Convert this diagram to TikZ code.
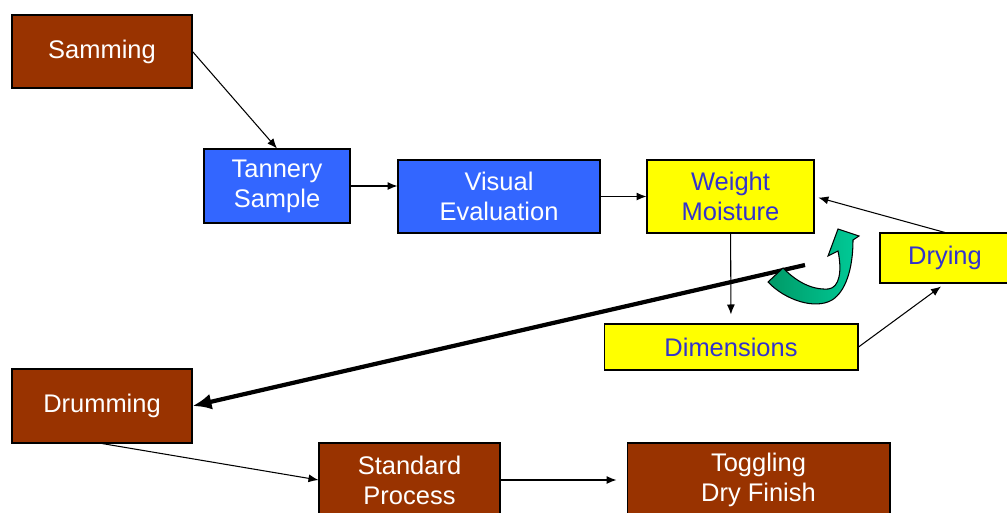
\documentclass[tikz,border=0pt]{standalone}
\usepackage{fontspec}
\setmainfont{Liberation Sans}
\usepackage{xcolor}
\usetikzlibrary{arrows,arrows.meta,calc,positioning,shapes}
\definecolor{leather}{HTML}{993300}
\definecolor{tanblue}{HTML}{3366FF}
\definecolor{dryyellow}{HTML}{FFFF00}
\definecolor{labelblue}{HTML}{3333CC}
\definecolor{greenlo}{HTML}{009966}
\definecolor{greenhi}{HTML}{00CC99}
\tikzset{%
	box/.style       = {draw, rectangle, line width=0.6pt, inner sep=0pt, align=center, font=\fontsize{14.5}{17}\selectfont},
	brownbox/.style  = {box, fill=leather, text=white}, % wet stages
	bluebox/.style   = {box, fill=tanblue, text=white}, % sample
	yellowbox/.style = {box, fill=dryyellow, text=labelblue}, % measuring
	arrow/.style     = {-{Latex[length=2mm,width=1.6mm]}, line width=0.6pt},
	bigarrow/.style  = {-{Latex[length=3.8mm,width=3.2mm]}, line width=2.4pt},
}
\begin{document}
\begin{tikzpicture}[x=0.02cm,y=-0.02cm]
	\useasboundingbox (0,0) rectangle (1007,512);
	\node [brownbox, minimum width=3.6cm, minimum height=1.46cm] (samming) at (102,51.5) {Samming};
	\node [bluebox, minimum width=2.92cm, minimum height=1.48cm] (tannery) at (277,186) {Tannery\\Sample};
	\node [bluebox, minimum width=4.04cm, minimum height=1.46cm] (visual) at (499,196.5) {Visual\\Evaluation};
	\node [yellowbox, minimum width=3.34cm, minimum height=1.46cm] (weight) at (730.5,196.5) {Weight\\Moisture};
	\node [yellowbox, minimum width=2.6cm, minimum height=1cm] (drying) at (945,258) {Drying};
	\node [yellowbox, minimum width=5.08cm, minimum height=0.92cm] (dimensions) at (731,347) {Dimensions};
	\node [brownbox, minimum width=3.6cm, minimum height=1.48cm] (drumming) at (102,406) {Drumming};
	\node [brownbox, minimum width=3.62cm, minimum height=1.48cm] (standard) at (409.5,480) {Standard\\Process};
	\node [brownbox, minimum width=5.26cm, minimum height=1.48cm] (toggling) at (758.5,480) {Toggling\\Dry Finish};
	\coordinate (back) at (805,265);

	\draw[arrow] (samming.east) -- (tannery.north);
	\draw[arrow] (tannery) -- (tannery -| visual.west);
	\draw[arrow] (visual.east) -- (weight.west);
	\draw[arrow, shorten >=0.18cm] (weight) -- (dimensions);
	\draw[arrow, shorten >=0.1cm] (dimensions.east) -- (drying.south);
	\draw[arrow, shorten >=0.08cm] (drying.north) -- (weight.east);
	\draw[bigarrow] (back) -- (drumming.east);
	\draw[arrow] (drumming.south) -- (standard.west);
	\draw[arrow, shorten >=0.2cm] (standard.east) -- (toggling.west);

	% curved block arrow
	\draw[line width=0.6pt, left color=greenlo, right color=greenhi]
		(768,282) .. controls (785,300) and (815,310) .. (832,300)
		.. controls (845,292) and (853,270) .. (853,240)
		-- (859,236) -- (838,229) -- (828,256) -- (838,251)
		.. controls (842,270) and (840,288) .. (828,289)
		.. controls (810,290) and (795,280) .. (783,268) -- cycle;
\end{tikzpicture}
\end{document}
